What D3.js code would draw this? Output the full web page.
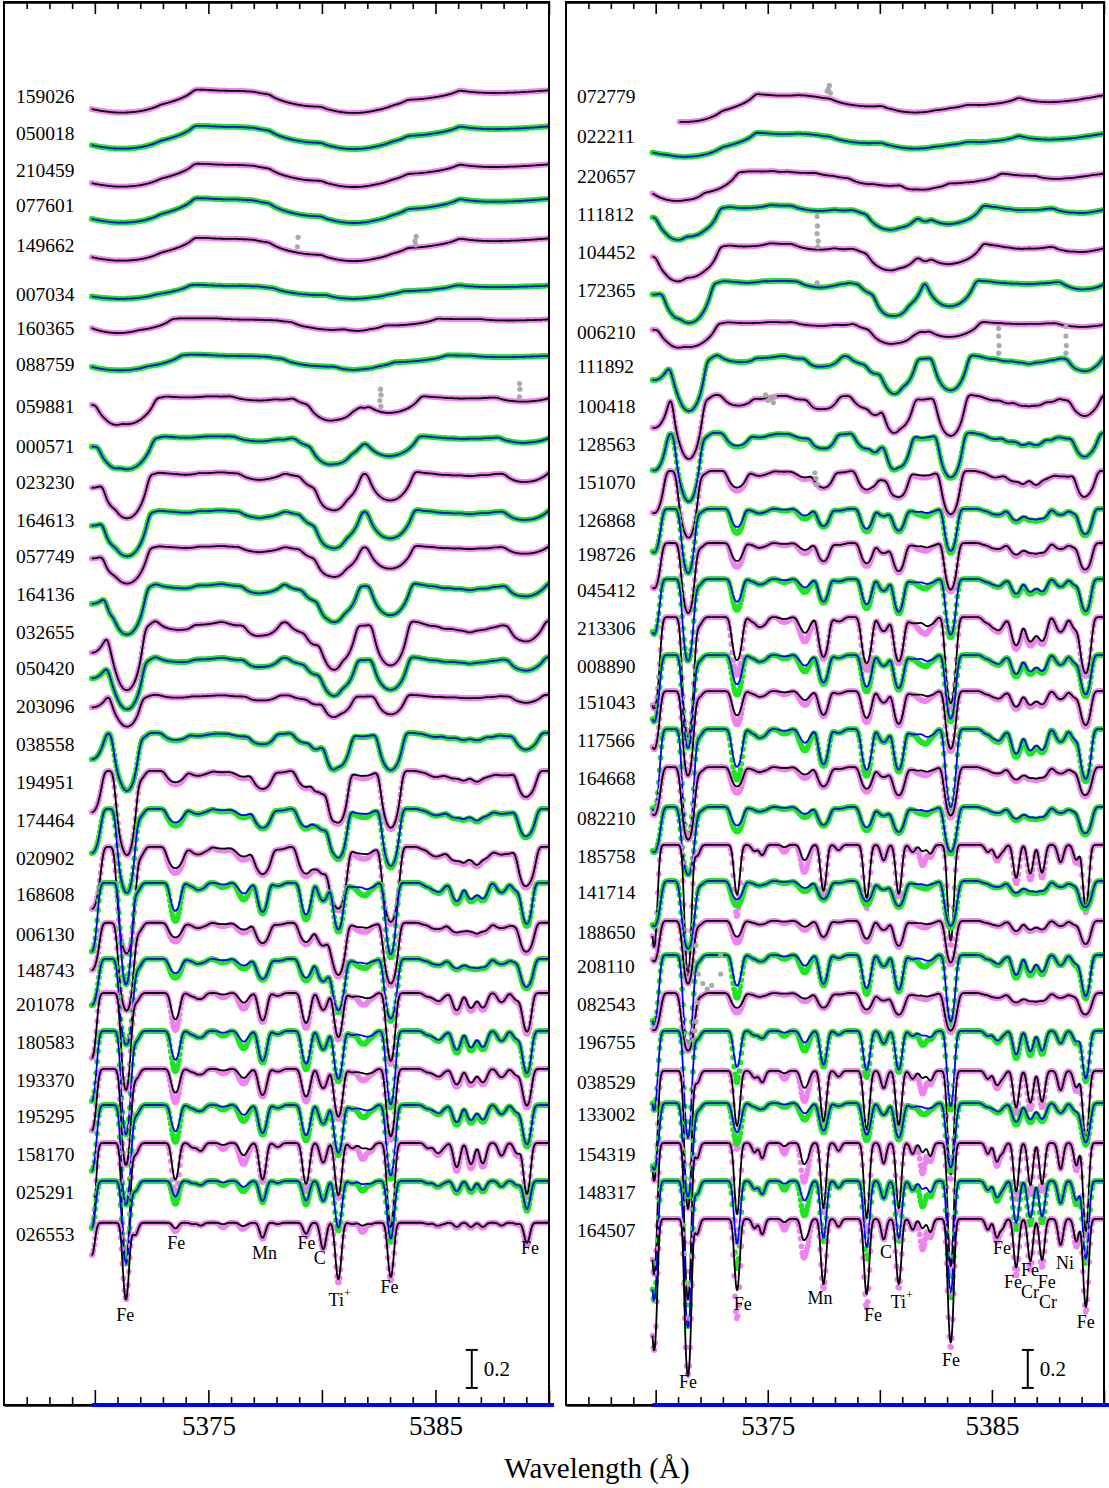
<!DOCTYPE html>
<html><head><meta charset="utf-8">
<script src="https://cdn.jsdelivr.net/npm/d3@7"></script>
<style>
body{margin:0;background:#fff}
svg text{font-family:"Liberation Serif","Times New Roman",serif;fill:#000}
</style>
</head><body>
<svg id="c" width="1109" height="1488"></svg>
<script>
// ---------------- DATA ----------------
// line list (Å), optical-depth-like strengths for a hot (A) and a cool (G) sharp-lined star, observed/model ratio
const lineWl   = [5369.96,5371.49,5371.90,5373.71,5374.50,5374.85,5375.85,5376.70,5376.90,5377.62,5378.30,5379.57,5380.34,5381.02,5381.65,5382.10,5382.45,5383.37,5385.05,5385.45,5385.70,5386.33,5386.97,5387.50,5388.34,5389.05,5389.48];
const kHot     = [0.25,0.69,0.09,0.04,0.01,0.02,0.01,0.02,0.01,0.11,0.01,0.08,0.20,0.47,0.01,0.02,0.01,0.45,0.01,0.02,0.01,0.03,0.03,0.03,0.02,0.01,0.15];
const kCool    = [1.40,2.06,0.10,0.56,0.06,0.10,0.02,0.12,0.085,0.50,0.05,0.60,0.135,0.50,0.07,0.06,0.085,1.25,0.07,0.12,0.06,0.35,0.30,0.29,0.175,0.15,0.74];
const obsRatio = [1,1,1,1.7,1,1,4,2.2,1.8,1.1,1,1.3,1,1.1,1,4,1.5,1.1,1,1.3,1,1.25,1.3,1.25,1,1.3,1.1];

// wavelength calibration of the plotted spectra in each panel: [offset at 5370 Å, slope]
const leftWlCal  = [-0.093, -0.0183];
const rightWlCal = [-0.030, -0.0133];

// left panel stars (top to bottom)
const leftNames    = ["159026","050018","210459","077601","149662","007034","160365","088759","059881","000571","023230","164613","057749","164136","032655","050420","203096","038558","194951","174464","020902","168608","006130","148743","201078","180583","193370","195295","158170","025291","026553"];
const leftShift    = [5.95,5.76,5.56,5.38,5.17,4.91,4.73,4.54,4.32,4.11,3.92,3.72,3.53,3.33,3.13,2.94,2.74,2.54,2.34,2.14,1.94,1.75,1.54,1.35,1.17,0.97,0.77,0.58,0.38,0.18,-0.04];
const leftVsini    = [3.0,3.0,3.0,3.0,3.0,2.8,2.0,2.4,1.3,1.2,1.0,1.0,1.0,0.9,0.8,0.8,0.7,0.6,0.5,0.45,0.45,0.3,0.4,0.35,0.25,0.25,0.25,0.25,0.2,0.2,0.15];
const leftStrength = [2.8,2.8,2.8,3.0,2.8,1.5,1.2,1.5,1.8,2.0,2.4,2.4,1.9,2.2,2.6,2.0,1.0,1.6,2.2,1.9,2.5,1.2,1.8,1.6,1.0,1.1,1.1,1.1,1.0,0.9,1.0];
const leftCool     = [0.02,0.02,0.02,0.02,0.02,0.02,0,0,0,0,0,0,0,0.05,0.1,0.05,0.05,0.1,0.1,0.15,0.2,0.45,0.15,0.15,0.45,0.45,0.35,0.4,0.55,0.2,0];
const leftStart    = leftNames.map(() => 5369.85);

// right panel stars (top to bottom)
const rightNames    = ["072779","022211","220657","111812","104452","172365","006210","111892","100418","128563","151070","126868","198726","045412","213306","008890","151043","117566","164668","082210","185758","141714","188650","208110","082543","196755","038529","133002","154319","148317","164507"];
const rightShift    = [5.95,5.74,5.53,5.33,5.13,4.93,4.71,4.53,4.32,4.12,3.92,3.72,3.54,3.35,3.15,2.95,2.76,2.56,2.36,2.15,1.95,1.76,1.55,1.37,1.17,0.97,0.76,0.59,0.38,0.18,-0.02];
const rightVsini    = [3.0,3.0,2.2,1.4,1.4,1.1,1.3,0.8,0.7,0.6,0.5,0.35,0.35,0.3,0.3,0.3,0.3,0.3,0.35,0.35,0.15,0.35,0.3,0.25,0.35,0.2,0.15,0.25,0.12,0.15,0.12];
const rightStrength = [2.0,1.7,1.8,1.9,2.1,2.4,1.6,2.0,1.8,1.6,1.0,0.6,0.8,0.8,1.1,0.8,0.8,1.0,0.8,0.7,0.8,0.7,0.6,0.75,0.6,0.7,0.9,0.75,1.0,0.95,1.0];
const rightCool     = [0.4,0.4,0.3,0.1,0.1,0,0,0.1,0.2,0.25,0.5,0.7,0.5,0.55,0.85,0.75,0.6,0.8,0.55,0.6,0.9,0.6,0.5,0.75,0.55,0.8,0.9,0.7,1.0,1.0,1.0];
const rightStart    = rightNames.map((d, i) => i === 0 ? 5371.05 : 5369.85);

// masked (grey) points: panel, star index, wavelength, normalised flux
const greyPanel = [0,0,0,0,0, 0,0,0,0,0,0,0, 1,1,1,1, 1,1,1,1,1, 1, 1,1,1,1,1,1,1,1, 1,1,1,1,1, 1,1,1, 1,1,1,1,1,1,1,1,1,1,1];
const greyStar  = [4,4,4,4,4, 8,8,8,8,8,8,8, 0,0,0,0, 4,4,4,4,4, 5, 7,7,7,7,7,7,7,7, 8,8,8,8,8, 10,10,10, 24,24,24,24,24,24,24,24,24,24,24];
const greyWl    = [5378.92,5378.95,5384.13,5384.15,5384.10, 5382.60,5382.55,5382.60,5382.58,5388.70,5388.72,5388.70, 5377.70,5377.75,5377.65,5377.80, 5377.20,5377.22,5377.20,5377.25,5377.23, 5377.20, 5385.30,5385.30,5385.32,5385.30,5388.30,5388.30,5388.32,5388.30, 5374.90,5375.00,5375.10,5375.25,5375.30, 5377.10,5377.15,5377.20, 5371.80,5371.90,5372.10,5372.30,5372.50,5372.90,5372.90,5371.85,5371.80,5371.75,5371.70];
const greyFlux  = [0.93,0.98,0.94,0.985,0.96, 0.94,0.97,1.00,1.03,0.99,1.03,1.06, 0.98,1.00,0.97,0.96, 1.13,1.08,1.04,1.00,0.97, 0.98, 1.14,1.10,1.05,1.01,1.15,1.10,1.05,1.01, 1.00,0.97,0.98,0.96,0.99, 0.99,0.96,0.93, 1.25,1.10,1.05,1.02,1.04,1.20,1.10,0.95,0.85,0.80,0.75];

// line identifications
const leftIdText  = ["Fe","Fe","Mn","Fe","C","Ti","Fe","Fe"];
const leftIdWl    = [5371.34,5373.59,5377.47,5379.32,5379.90,5380.78,5382.98,5389.16];
const rightIdText = ["Fe","Fe","Mn","Fe","C","Ti","Fe","Fe","Fe","Fe","Cr","Fe","Cr","Ni","Fe"];
const rightIdWl   = [5371.44,5373.89,5377.33,5379.69,5380.27,5380.98,5383.17,5385.45,5386.70,5385.94,5386.70,5387.45,5387.50,5388.26,5389.19];

const tickMajor = [5370,5375,5380,5385,5390];
const tickMinor = d3.range(5367,5390).filter(v => v % 5 !== 0);
const tickLabels = [5375,5385];
const scaleBarValue = 0.2;

// ---------------- LAYOUT ----------------
const leftIdY  = [1315,1243,1253,1243,1258,1300,1287,1248];
const rightIdY = [1382,1304,1298,1315,1252,1302,1360,1248,1270,1282,1292,1282,1302,1263,1322];

const svg = d3.select("#c");
const yBot = 1405, yTop = 2;
const y = d3.scaleLinear().domain([0, 7.4]).range([yBot, 0]);
const WL0 = 5366, WL1 = 5390;

const panels = [
  {x0: 4, x1: 549, names: leftNames, shift: leftShift, vs: leftVsini, m: leftStrength, h: leftCool, start: leftStart, cal: leftWlCal,
   idText: leftIdText, idWl: leftIdWl, idY: leftIdY, labelX: 16},
  {x0: 566, x1: 1104, names: rightNames, shift: rightShift, vs: rightVsini, m: rightStrength, h: rightCool, start: rightStart, cal: rightWlCal,
   idText: rightIdText, idWl: rightIdWl, idY: rightIdY, labelX: 577}
];

// ---------------- SYNTHESIS ----------------
const STEP = 0.02, SIG = 0.09, gLo = 5362, gHi = 5394;
const grid = d3.range(Math.round((gHi - gLo) / STEP) + 1).map(i => gLo + i * STEP);
function synth(m, h, vs, obs, start, cal) {
  const centers = lineWl.map(l => l + cal[0] + cal[1] * (l - 5370));
  const att = Math.max(0, 1 - vs / 0.7);
  const str = lineWl.map((l, i) => m * ((1 - h) * kHot[i] + h * kCool[i]) * (obs ? 1 + (obsRatio[i] - 1) * att : 1));
  const tau = grid.map(l => {
    let t = 0;
    for (let i = 0; i < centers.length; i++) {
      const d = l - centers[i];
      if (Math.abs(d) < 0.6) t += str[i] * Math.exp(-d * d / (2 * SIG * SIG));
    }
    return t;
  });
  const n = Math.max(1, Math.round(vs / STEP)), eps = 0.6;
  const ker = d3.range(-n, n + 1).map(j => { const x = j / n, q = 1 - x * x; return q <= 0 ? 0 : 2 * (1 - eps) * Math.sqrt(q) + Math.PI * eps / 2 * q; });
  const s = d3.sum(ker);
  const out = [];
  for (let i = 0; i < grid.length; i++) {
    const l = grid[i];
    if (l < start - 1e-9 || l > WL1 + 1e-9) continue;
    let a = 0;
    for (let j = -n; j <= n; j++) { const k = i + j; if (k >= 0 && k < tau.length) a += ker[j + n] * tau[k]; }
    out.push([l, Math.exp(-a / s)]);
  }
  return out;
}

// ---------------- DRAW ----------------
const colors = [{obs: "#ee82ee", mod: "#000000"}, {obs: "#1ee61e", mod: "#0000ff"}];

panels.forEach((p, pi) => {
  const x = d3.scaleLinear().domain([WL0, WL1]).range([p.x0, p.x1]);
  const g = svg.append("g");
  const clipId = "clip" + pi;
  svg.append("clipPath").attr("id", clipId).append("rect").attr("x", p.x0).attr("y", yTop).attr("width", p.x1 - p.x0).attr("height", yBot - yTop);
  const plot = g.append("g").attr("clip-path", `url(#${clipId})`);

  p.names.forEach((name, i) => {
    const c = colors[i % 2];
    const sh = p.shift[i];
    const obs = synth(p.m[i], p.h[i], p.vs[i], true, p.start[i], p.cal);
    const mod = synth(p.m[i], p.h[i], p.vs[i], false, p.start[i], p.cal);
    const dots = obs.filter((d, k) => k % 2 === 0).map(d => `M${x(d[0]).toFixed(1)},${y(d[1] + sh).toFixed(1)}h0`).join("");
    plot.append("path").attr("d", dots).attr("stroke", c.obs).attr("stroke-width", 5.8).attr("stroke-linecap", "round").attr("fill", "none");
    plot.append("path").attr("d", d3.line().x(d => x(d[0])).y(d => y(d[1] + sh))(mod))
      .attr("stroke", c.mod).attr("stroke-width", 1.8).attr("fill", "none").attr("stroke-linejoin", "round");
    greyPanel.forEach((gp, gi) => {
      if (gp === pi && greyStar[gi] === i) {
        plot.append("circle").attr("cx", x(greyWl[gi])).attr("cy", y(greyFlux[gi] + sh)).attr("r", 2.6).attr("fill", "#aaaaaa");
      }
    });
    g.append("text").attr("x", p.labelX).attr("y", y(1 + sh) + 18).attr("font-size", 19.5).text(name);
  });

  p.idText.forEach((t, k) => {
    const tx = g.append("text").attr("x", x(p.idWl[k])).attr("y", p.idY[k] + 6).attr("text-anchor", "middle").attr("font-size", 18).text(t);
    if (t === "Ti") tx.append("tspan").attr("font-size", 12).attr("dy", -9).text("+");
  });

  g.append("rect").attr("x", p.x0).attr("y", yTop).attr("width", p.x1 - p.x0).attr("height", yBot - yTop)
    .attr("fill", "none").attr("stroke", "#000").attr("stroke-width", 2);

  const axB = g.append("g").attr("transform", `translate(0,${yBot})`);
  axB.call(d3.axisBottom(x).tickValues(tickMajor).tickSizeInner(-15).tickSizeOuter(0).tickFormat(""));
  axB.append("g").call(d3.axisBottom(x).tickValues(tickMinor).tickSizeInner(-8).tickSizeOuter(0).tickFormat(""));
  const axL = g.append("g").attr("transform", `translate(0,${yBot})`)
    .call(d3.axisBottom(x).tickValues(tickLabels).tickSize(0).tickPadding(10).tickFormat(d3.format("d")));
  axL.selectAll("text").attr("font-size", 27).attr("font-family", "Liberation Serif, serif").attr("dy", "0.75em");
  axL.select(".domain").remove();
  const axT = g.append("g").attr("transform", `translate(0,${yTop})`);
  axT.call(d3.axisTop(x).tickValues(tickMajor).tickSizeInner(-12).tickSizeOuter(0).tickFormat(""));
  axT.append("g").call(d3.axisTop(x).tickValues(tickMinor).tickSizeInner(-7).tickSizeOuter(0).tickFormat(""));
  g.selectAll(".tick line").attr("stroke", "#000").attr("stroke-width", 1.6);
  g.selectAll(".domain").attr("stroke", "#000").attr("stroke-width", 2);

  g.append("line").attr("x1", x(5370) - 3).attr("x2", x(5390) + 5).attr("y1", yBot).attr("y2", yBot)
    .attr("stroke", "#0000ff").attr("stroke-width", 4);

  const bx = x(5386.6), b0 = y(0.09), b1 = y(0.09 + scaleBarValue);
  g.append("line").attr("x1", bx).attr("x2", bx).attr("y1", b0).attr("y2", b1).attr("stroke", "#000").attr("stroke-width", 2);
  g.append("line").attr("x1", bx - 6).attr("x2", bx + 6).attr("y1", b0).attr("y2", b0).attr("stroke", "#000").attr("stroke-width", 2);
  g.append("line").attr("x1", bx - 6).attr("x2", bx + 6).attr("y1", b1).attr("y2", b1).attr("stroke", "#000").attr("stroke-width", 2);
  g.append("text").attr("x", bx + 12).attr("y", (b0 + b1) / 2 + 7).attr("font-size", 21).text(scaleBarValue);
});

svg.append("text").attr("x", 597).attr("y", 1478).attr("text-anchor", "middle").attr("font-size", 29).text("Wavelength (Å)");
</script>
</body></html>
